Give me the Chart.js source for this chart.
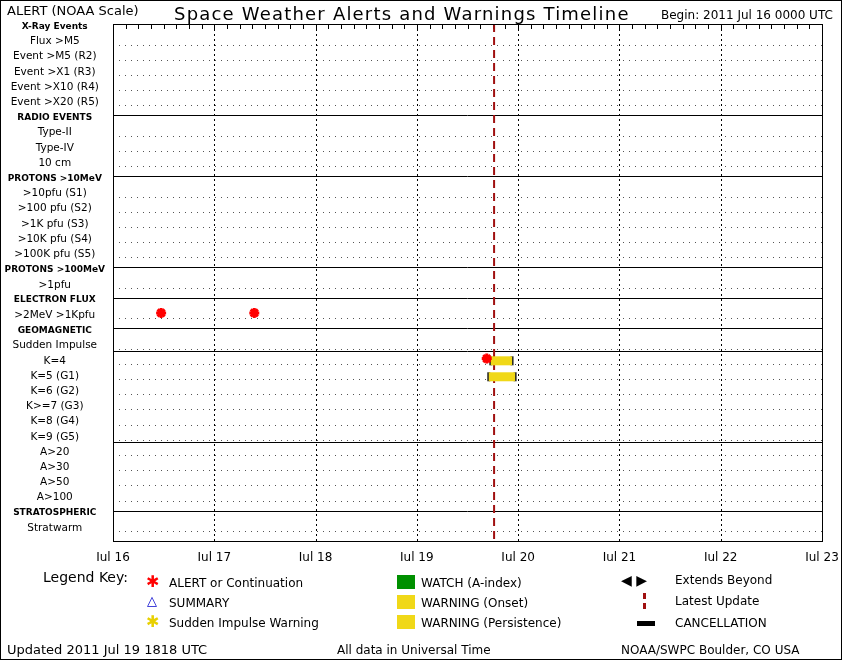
<!DOCTYPE html>
<html><head><meta charset="utf-8">
<script src="https://cdn.jsdelivr.net/npm/chart.js@4/dist/chart.umd.min.js"></script>
<style>
body{margin:0;background:#fff;font-family:"DejaVu Sans",sans-serif;}
#wrap{position:relative;width:842px;height:660px;box-sizing:border-box;border:1px solid #000;overflow:hidden}
canvas{position:absolute;left:0;top:0}
.t{position:absolute;white-space:nowrap;color:#000;font-size:12px}
.sw{position:absolute}
</style></head><body>
<div id="wrap">
<canvas id="c" width="842" height="660"></canvas>
<div class="t" style="left:6px;top:2px;font-size:13px">ALERT (NOAA Scale)</div>
<div class="t" style="left:173px;top:2px;font-size:18px;letter-spacing:1.2px">Space Weather Alerts and Warnings Timeline</div>
<div class="t" style="left:660px;top:7px;font-size:12px">Begin: 2011 Jul 16 0000 UTC</div>
<div class="t" style="left:42px;top:568px;font-size:14px">Legend Key:</div>
<div class="t" style="left:145px;top:571px;color:red;font-size:16px;font-weight:bold">✱</div>
<div class="t" style="left:168px;top:575px">ALERT or Continuation</div>
<div class="t" style="left:146px;top:592px;color:#0000cc;font-size:13px">△</div>
<div class="t" style="left:168px;top:595px">SUMMARY</div>
<div class="t" style="left:145px;top:611px;color:#e8d000;font-size:16px;font-weight:bold">✱</div>
<div class="t" style="left:168px;top:615px">Sudden Impulse Warning</div>
<div class="sw" style="left:396px;top:574px;width:18px;height:14px;background:#009000"></div>
<div class="t" style="left:420px;top:575px">WATCH (A-index)</div>
<div class="sw" style="left:396px;top:594px;width:18px;height:14px;background:#f0d818"></div>
<div class="t" style="left:420px;top:595px">WARNING (Onset)</div>
<div class="sw" style="left:396px;top:614px;width:18px;height:14px;background:#f0d818"></div>
<div class="t" style="left:420px;top:615px">WARNING (Persistence)</div>
<div class="t" style="left:620px;top:571px;font-size:14px">◀ ▶</div>
<div class="t" style="left:674px;top:572px">Extends Beyond</div>
<div class="sw" style="left:642px;top:592px;width:3px;height:6px;background:#a01010"></div>
<div class="sw" style="left:642px;top:602px;width:3px;height:6px;background:#a01010"></div>
<div class="t" style="left:674px;top:593px">Latest Update</div>
<div class="sw" style="left:636px;top:620px;width:18px;height:5px;background:#000"></div>
<div class="t" style="left:674px;top:615px">CANCELLATION</div>
<div class="t" style="left:6px;top:641px;font-size:13px">Updated 2011 Jul 19 1818 UTC</div>
<div class="t" style="left:336px;top:642px">All data in Universal Time</div>
<div class="t" style="left:620px;top:642px">NOAA/SWPC Boulder, CO USA</div>
</div>
<script>
const rowLabels=["X-Ray Events","Flux >M5","Event >M5 (R2)","Event >X1 (R3)","Event >X10 (R4)","Event >X20 (R5)",
"RADIO EVENTS","Type-II","Type-IV","10 cm","PROTONS >10MeV",">10pfu (S1)",">100 pfu (S2)",">1K pfu (S3)",">10K pfu (S4)",">100K pfu (S5)",
"PROTONS >100MeV",">1pfu","ELECTRON FLUX",">2MeV >1Kpfu","GEOMAGNETIC","Sudden Impulse","K=4","K=5 (G1)","K=6 (G2)","K>=7 (G3)","K=8 (G4)","K=9 (G5)",
"A>20","A>30","A>50","A>100","STRATOSPHERIC","Stratwarm"];
const headerRows=[0,6,10,16,18,20,32];
const solidRows=[6,10,16,18,20,21.5,27.5,32];
const dayLabels=["Jul 16","Jul 17","Jul 18","Jul 19","Jul 20","Jul 21","Jul 22","Jul 23"];
// alerts: [day offset, row]
const alertX=[0.475,1.395,3.69];
const alertRow=[19,19,22];
// warnings: start, end, row
const warnStart=[3.73,3.71];
const warnEnd=[3.94,3.97];
const warnRow=[22.15,23.2];
const latestUpdate=3.7625;

const ds=[];
ds.push({type:'scatter',data:alertX.map((x,i)=>({x,y:alertRow[i]})),pointStyle:'star',pointRadius:5,pointBorderWidth:3,borderColor:'#ff0000',backgroundColor:'#ff0000',pointBorderColor:'#ff0000'});
warnStart.forEach((s,i)=>{
 ds.push({type:'line',data:[{x:s,y:warnRow[i]},{x:warnEnd[i],y:warnRow[i]}],borderColor:'#f0d818',borderWidth:9,pointRadius:0,borderCapStyle:'butt'});
 ds.push({type:'scatter',data:[{x:s,y:warnRow[i]},{x:warnEnd[i],y:warnRow[i]}],pointStyle:'line',pointRotation:90,pointRadius:4.5,pointBorderWidth:3,borderColor:'#222',pointBorderColor:'#222'});
});
const deco={id:'deco',beforeDatasetsDraw(ch){
 const c=ch.ctx,x=ch.scales.x,y=ch.scales.y,a=ch.chartArea;
 c.save();
 c.strokeStyle='#555';c.lineWidth=1;
 for(let r=1;r<34;r++){
  if(headerRows.includes(r))continue;
  const py=Math.round(y.getPixelForValue(r+0.35))+0.5;
  c.setLineDash([1,5]);c.beginPath();c.moveTo(a.left,py);c.lineTo(a.right,py);c.stroke();
 }
 c.setLineDash([]);c.strokeStyle='#000';
 solidRows.forEach(r=>{const py=Math.round(y.getPixelForValue(r))+0.5;c.beginPath();c.moveTo(a.left,py);c.lineTo(a.right,py);c.stroke();});
 c.setLineDash([2,3]);
 for(let d=1;d<7;d++){const px=Math.round(x.getPixelForValue(d))+0.5;c.beginPath();c.moveTo(px,a.top);c.lineTo(px,a.bottom);c.stroke();}
 c.setLineDash([]);
 for(let h=1;h<56;h++){const px=Math.round(x.getPixelForValue(h/8))+0.5;c.beginPath();c.moveTo(px,a.top);c.lineTo(px,a.top+5);c.stroke();}
 c.strokeStyle='#a01010';c.lineWidth=2;c.setLineDash([8,5]);
 const lx=x.getPixelForValue(latestUpdate);c.beginPath();c.moveTo(lx,a.top);c.lineTo(lx,a.bottom);c.stroke();
 c.setLineDash([]);c.strokeStyle='#000';c.lineWidth=1;
 c.strokeRect(a.left+0.5,a.top+0.5,a.right-a.left,a.bottom-a.top);
 c.restore();
}};
new Chart(document.getElementById('c'),{
 data:{datasets:ds},
 plugins:[deco],
 options:{responsive:false,animation:false,
  layout:{padding:{top:23,right:21,bottom:100,left:0}},
  plugins:{legend:{display:false},tooltip:{enabled:false}},
  scales:{
   x:{type:'linear',min:0,max:7,grid:{display:false},border:{display:false},
      afterFit(s){s.height=20},
      afterBuildTicks(s){s.ticks=dayLabels.map((_,i)=>({value:i}))},
      ticks:{callback:(v)=>dayLabels[v],color:'#000',font:{family:'DejaVu Sans',size:12},maxRotation:0,autoSkip:false,padding:2}},
   y:{type:'linear',min:0,max:34,reverse:true,grid:{display:false},border:{display:false},
      afterFit(s){s.width=112},
      afterBuildTicks(s){s.ticks=rowLabels.map((_,i)=>({value:i+0.15}))},
      ticks:{autoSkip:false,crossAlign:'center',padding:0,color:'#000',
        callback:(v)=>rowLabels[Math.round(v-0.15)],
        font:(ctx)=>({family:'DejaVu Sans',size:headerRows.includes(ctx.index)?9:10.5,weight:headerRows.includes(ctx.index)?'bold':'normal'})}}
  }}
});
</script></body></html>
